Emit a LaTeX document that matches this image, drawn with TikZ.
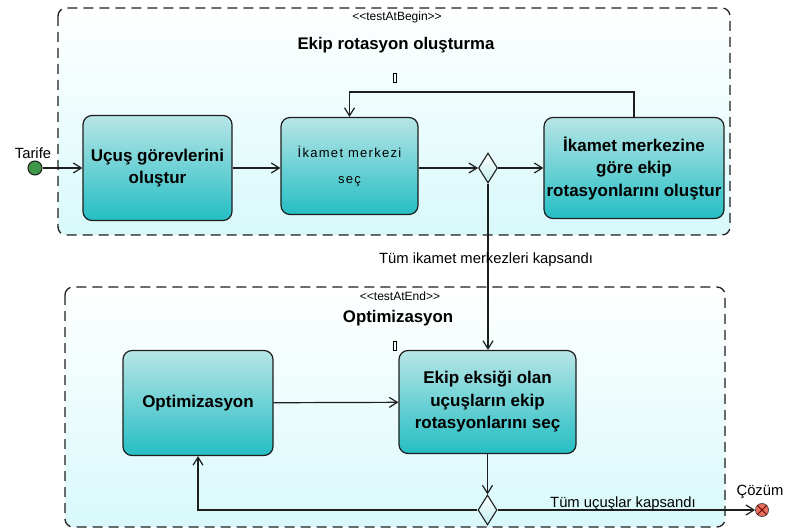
\documentclass[tikz,border=0pt]{standalone}
\usepackage{fontspec}
\setmainfont{Liberation Sans}
\usetikzlibrary{arrows.meta, shapes.geometric}
\definecolor{acttop}{RGB}{184,229,230}
\definecolor{actbot}{RGB}{36,190,196}
\definecolor{regionbot}{RGB}{216,249,251}
\definecolor{edgegray}{RGB}{30,30,30}
\definecolor{startgreen}{RGB}{62,150,72}
\definecolor{endred}{RGB}{232,112,92}

\begin{document}
\begin{tikzpicture}[x=1pt, y=-1pt, every node/.style={font=\fontsize{14.8}{17}\selectfont},
    region/.style={draw=edgegray, line width=1.3pt, dash pattern=on 10pt off 6pt, rounded corners=8pt, top color=white, bottom color=regionbot},
    action/.style={draw=edgegray, line width=1.2pt, rounded corners=9pt, top color=acttop, bottom color=actbot, align=center, inner sep=0pt, font=\fontsize{17}{22.5}\selectfont\bfseries},
    decision/.style={diamond, draw=edgegray, line width=1.1pt, top color=white, bottom color=actbot!30, minimum width=19pt, minimum height=30pt, inner sep=0pt},
    tagbox/.style={draw=black, line width=0.9pt, minimum width=3.5pt, minimum height=9pt, inner sep=0pt},
    flow/.style={draw=edgegray, line width=1.2pt, -{Straight Barb[length=8pt,width=10pt]}}]
    \useasboundingbox (0,0) rectangle (786,529);
    % regions
    \draw[region] (58,8) rectangle (730,235);
    \draw[region] (65,287) rectangle (725,527);
    \node[font=\fontsize{12}{13}\selectfont] (tagbegin) at (397,17) {<\kern0pt<testAtBegin>\kern0pt>};
    \node[font=\fontsize{16.8}{18}\selectfont\bfseries] (titlebegin) at (396,45) {Ekip rotasyon oluşturma};
    \node[tagbox] (markbegin) at (395,78) {};
    \node[font=\fontsize{12}{13}\selectfont] (tagend) at (400,296) {<\kern0pt<testAtEnd>\kern0pt>};
    \node[font=\fontsize{16.8}{18}\selectfont\bfseries] (titleend) at (398,318) {Optimizasyon};
    \node[tagbox] (markend) at (395,346) {};
    % top row
    \node[circle, draw=edgegray, line width=1pt, fill=startgreen, minimum size=14pt, inner sep=0pt] (start) at (35,168) {};
    \node (tarife) at (33,153) {Tarife};
    \node[action, minimum width=149pt, minimum height=105pt] (gorev) at (157.5,168) {Uçuş görevlerini\\oluştur};
    \node[action, minimum width=137pt, minimum height=97pt, font=\fontsize{13}{26}\selectfont\addfontfeature{LetterSpace=10}] (merkez) at (349.5,166) {İkamet merkezi\\seç};
    \node[decision] (karar1) at (488,168) {};
    \node[action, minimum width=180pt, minimum height=101pt] (rota) at (634,168) {İkamet merkezine\\göre ekip\\rotasyonlarını oluştur};
    \coordinate (donus) at (490,92);
    % bottom row
    \node[action, minimum width=150pt, minimum height=105pt] (optim) at (198,403) {Optimizasyon};
    \node[action, minimum width=177pt, minimum height=103pt] (eksik) at (487.5,402) {Ekip eksiği olan\\uçuşların ekip\\rotasyonlarını seç};
    \node[decision] (karar2) at (487.5,510) {};
    \node[circle, draw=edgegray!80, line width=0.8pt, fill=endred, minimum size=13pt, inner sep=0pt] (cozum) at (762,510) {};
    \draw[line width=1pt, color=red!40!black] (cozum.north west) -- (cozum.south east) (cozum.north east) -- (cozum.south west);
    \node (cozumlabel) at (760,492) {Çözüm};
    % flows
    \draw[flow] (start) -- (gorev);
    \draw[flow] (gorev.east) -- (gorev.east -| merkez.west);
    \draw[flow] (merkez.east |- karar1) -- (karar1);
    \draw[flow] (karar1) -- (rota);
    \draw[flow] (rota.north) |- (donus) -| (merkez.north);
    \draw[flow] (karar1.south) -- (karar1.south |- eksik.north);
    \node (kapsandi1) at (486,260) {Tüm ikamet merkezleri kapsandı};
    \draw[flow] (optim) -- (eksik);
    \draw[flow] (eksik.south -| karar2) -- (karar2.north);
    \draw[flow] (karar2.west) -| (optim.south);
    \draw[flow] (karar2.east) -- (cozum.west);
    \node[anchor=base] (kapsandi2) at (623,507) {Tüm uçuşlar kapsandı};
\end{tikzpicture}
\end{document}
